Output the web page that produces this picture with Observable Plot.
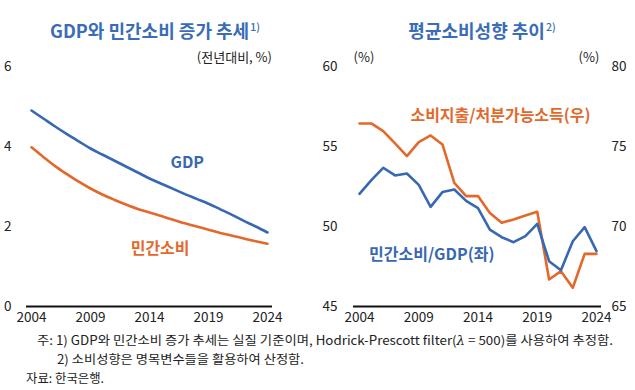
<!DOCTYPE html>
<html><head><meta charset="utf-8">
<script src="https://cdn.jsdelivr.net/npm/d3@7"></script>
<script src="https://cdn.jsdelivr.net/npm/@observablehq/plot@0.6"></script>
<style>
body{margin:0;background:#fff;}
#root{position:relative;width:635px;height:390px;overflow:hidden;font-family:"Noto Sans CJK KR","Noto Sans",sans-serif;color:#222;}
.abs{position:absolute;white-space:nowrap;line-height:1;}
.title{color:#3a6cb8;font-size:18px;font-weight:700;}
.title sup{font-size:10.5px;font-weight:500;vertical-align:0;position:relative;top:-7px;margin-left:1px;}
.unit{font-size:13px;color:#222;}
.note{font-size:12.5px;color:#222;transform-origin:0 0;}
</style>
</head><body>
<div id="root">
  <div id="t1" class="abs title">GDP와 민간소비 증가 추세<sup>1)</sup></div>
  <div id="t2" class="abs title">평균소비성향 추이<sup>2)</sup></div>
  <div id="u1" class="abs unit">(전년대비, %)</div>
  <div id="u2" class="abs unit">(%)</div>
  <div id="u3" class="abs unit">(%)</div>
  <div id="p1" class="abs" style="left:0;top:40px;"></div>
  <div id="p2" class="abs" style="left:315px;top:40px;"></div>
  <div id="n1" class="abs note">주: 1) GDP와 민간소비 증가 추세는 실질 기준이며, Hodrick-Prescott filter(<i style="font-family:'DejaVu Serif',serif;">λ</i> = 500)를 사용하여 추정함.</div>
  <div id="n2" class="abs note">2) 소비성향은 명목변수들을 활용하여 산정함.</div>
  <div id="n3" class="abs note">자료: 한국은행.</div>
</div>
<script>
// ---- data ----
const years = [2004,2005,2006,2007,2008,2009,2010,2011,2012,2013,2014,2015,2016,2017,2018,2019,2020,2021,2022,2023,2024];
const gdpTrend  = [4.90,4.70,4.50,4.31,4.13,3.95,3.80,3.65,3.50,3.35,3.20,3.07,2.94,2.81,2.69,2.57,2.43,2.29,2.14,2.00,1.85];
const consTrend = [3.98,3.74,3.51,3.31,3.12,2.95,2.80,2.67,2.55,2.44,2.35,2.26,2.17,2.08,2.00,1.92,1.84,1.77,1.70,1.63,1.57];
const apcGdp  = [52.04,52.90,53.67,53.19,53.31,52.60,51.23,52.15,52.31,51.60,51.15,49.80,49.33,49.02,49.40,50.17,47.83,47.27,49.08,49.96,48.46];
const apcDisp = [76.44,76.44,75.96,75.19,74.40,75.27,75.69,75.13,72.73,71.90,71.90,70.85,70.23,70.44,70.69,70.92,66.69,67.21,66.17,68.29,68.29];
const xTicks = [2004,2009,2014,2019,2024];
const leftTicks = [0,2,4,6];
const rightLeftTicks = [45,50,55,60];
const rightOffset = 20; // right axis (65-80) = left axis (45-60) + 20
const leftLabels = [
  {name:"GDP", year:2017.2, value:3.58, color:"blue"},
  {name:"민간소비", year:2014.9, value:1.45, color:"orange"}
];
const rightLabels = [
  {name:"소비지출/처분가능소득(우)", year:2015.9, value:76.9, axis:"right", color:"orange"},
  {name:"민간소비/GDP(좌)", year:2010.1, value:48.2, axis:"left", color:"blue"}
];
const BLUE = "#3868b2", ORANGE = "#e2692b";
const colorOf = c => c === "blue" ? BLUE : ORANGE;

const font = "'Noto Sans CJK KR','Noto Sans',sans-serif";
const baseStyle = {fontFamily: font, fontSize: "13.5px", color: "#222", background: "transparent", overflow: "visible"};

const leftData = years.flatMap((y,i) => [
  {year:y, value:gdpTrend[i], s:"GDP"},
  {year:y, value:consTrend[i], s:"민간소비"}
]);

const p1 = Plot.plot({
  width: 315, height: 290,
  marginTop: 26, marginBottom: 24, marginLeft: 26, marginRight: 43,
  style: baseStyle,
  x: {domain:[2004,2024], insetLeft:5, insetRight:5},
  y: {domain:[0,6]},
  marks: [
    Plot.axisY({ticks:leftTicks, tickSize:0, tickPadding:15, tickFormat:d=>String(d), label:null}),
    Plot.axisX({ticks:xTicks, tickSize:0, tickPadding:6, tickFormat:d=>String(d), label:null}),
    Plot.ruleY([0], {stroke:"#111", strokeWidth:2}),
    Plot.line(leftData.filter(d=>d.s==="GDP"), {x:"year", y:"value", stroke:BLUE, strokeWidth:2.6, curve:"monotone-x"}),
    Plot.line(leftData.filter(d=>d.s==="민간소비"), {x:"year", y:"value", stroke:ORANGE, strokeWidth:2.6, curve:"monotone-x"}),
    Plot.text(leftLabels, {x:"year", y:"value", text:"name", fill:d=>colorOf(d.color), fontSize:16, fontWeight:700})
  ]
});
document.getElementById("p1").appendChild(p1);

const rightBlue = years.map((y,i)=>({year:y, value:apcGdp[i]}));
const rightOrange = years.map((y,i)=>({year:y, value:apcDisp[i] - rightOffset}));
const rl = rightLabels.map(d => ({...d, v: d.axis === "right" ? d.value - rightOffset : d.value}));

const p2 = Plot.plot({
  width: 320, height: 290,
  marginTop: 26, marginBottom: 24, marginLeft: 38, marginRight: 34,
  style: baseStyle,
  x: {domain:[2004,2024], insetLeft:6, insetRight:5},
  y: {domain:[45,60]},
  marks: [
    Plot.axisY({ticks:rightLeftTicks, tickSize:0, tickPadding:16, tickFormat:d=>String(d), label:null}),
    Plot.axisY({anchor:"right", ticks:rightLeftTicks, tickSize:0, tickPadding:10, tickFormat:d=>String(d+rightOffset), label:null}),
    Plot.axisX({ticks:xTicks, tickSize:0, tickPadding:6, tickFormat:d=>String(d), label:null}),
    Plot.ruleY([45], {stroke:"#111", strokeWidth:2}),
    Plot.line(rightOrange, {x:"year", y:"value", stroke:ORANGE, strokeWidth:2.6}),
    Plot.line(rightBlue, {x:"year", y:"value", stroke:BLUE, strokeWidth:2.6}),
    Plot.text(rl, {x:"year", y:"v", text:"name", fill:d=>colorOf(d.color), fontSize:16, fontWeight:700})
  ]
});
document.getElementById("p2").appendChild(p2);

// ---- text placement ----
function place(id, opts){
  const el = document.getElementById(id);
  const r = el.getBoundingClientRect();
  let left = opts.cx !== undefined ? opts.cx - r.width/2 : (opts.right !== undefined ? opts.right - r.width : opts.left);
  el.style.left = left + "px";
  el.style.top = (opts.cy - r.height/2) + "px";
}
place("t1", {cx:155, cy:30});
place("t2", {cx:482, cy:30});
place("u1", {right:272, cy:56});
place("u2", {cx:364, cy:56});
place("u3", {cx:589, cy:56});

function fitNote(id, left, right, cy){
  const el = document.getElementById(id);
  const r = el.getBoundingClientRect();
  el.style.left = left + "px";
  el.style.top = (cy - r.height/2) + "px";
  if (right !== null) el.style.transform = `scaleX(${(right-left)/r.width})`;
}
fitNote("n1", 37, 613, 341);
fitNote("n2", 57, 304, 359);
fitNote("n3", 26, 104, 378);
</script>
</body></html>
